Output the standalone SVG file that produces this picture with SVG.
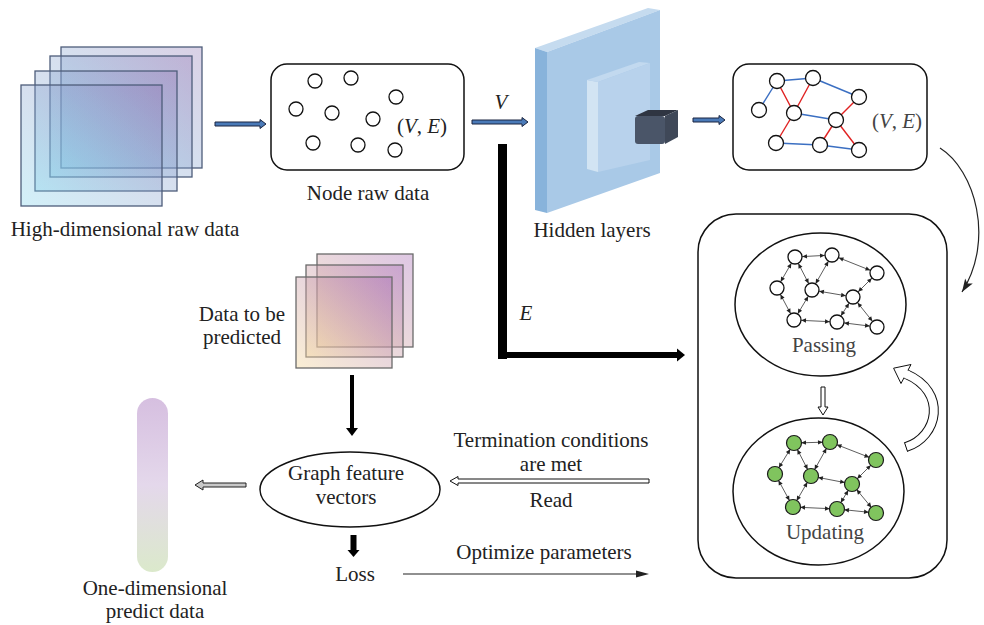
<svg xmlns="http://www.w3.org/2000/svg" width="984" height="625" viewBox="0 0 984 625" font-family="'Liberation Serif', 'DejaVu Serif', serif">
<style>
text{font-family:'Liberation Serif','DejaVu Serif',serif;font-size:21px;fill:#222;}
.g{fill:#444;}
.it{font-style:italic;}
.plane{stroke:#4e5d7a;stroke-width:1.3;fill:url(#gPlane);}
.dplane{stroke:#6a6a6a;stroke-width:1.3;fill:url(#gData);}
.box{fill:none;stroke:#111;stroke-width:1.5;}
.n{fill:#fff;stroke:#111;stroke-width:1.3;}
.ng{fill:#80c45e;stroke:#1a1a1a;stroke-width:1.2;}
.e{stroke:#333;stroke-width:0.8;marker-start:url(#ah);marker-end:url(#ah);}
.bl{stroke:#3b6fc2;stroke-width:1.4;}
.rd{stroke:#e02222;stroke-width:1.4;}
.barr{fill:#4a7ab8;stroke:#1a2540;stroke-width:1;}
.harr{fill:#fff;stroke:#111;stroke-width:1;}
</style>
<defs>
<linearGradient id="gPlane" x1="0" y1="1" x2="1" y2="0">
<stop offset="0" stop-color="#7fd4ec" stop-opacity="0.35"/>
<stop offset="1" stop-color="#8a6fb0" stop-opacity="0.32"/>
</linearGradient>
<linearGradient id="gData" x1="0" y1="1" x2="1" y2="0">
<stop offset="0" stop-color="#f6dca0" stop-opacity="0.45"/>
<stop offset="1" stop-color="#a060b0" stop-opacity="0.35"/>
</linearGradient>
<linearGradient id="gBar" x1="0" y1="0" x2="0" y2="1">
<stop offset="0" stop-color="#d6bfe0"/>
<stop offset="0.5" stop-color="#e4d8eb"/>
<stop offset="1" stop-color="#dbe9cb"/>
</linearGradient>
<marker id="ah" markerUnits="userSpaceOnUse" markerWidth="10" markerHeight="10" refX="0" refY="0" orient="auto-start-reverse" overflow="visible">
<path d="M-12,-2.2 L-7.3,0 L-12,2.2 Z" fill="#222"/>
</marker>
<marker id="ahc" markerUnits="userSpaceOnUse" markerWidth="16" markerHeight="16" refX="0" refY="0" orient="auto" overflow="visible">
<path d="M-13,-4.5 L0,0 L-13,4.5 L-10,0 Z" fill="#222"/>
</marker>
</defs>

<g id="high-dim">
<rect class="plane" x="61" y="47" width="141" height="121"/>
<rect class="plane" x="50" y="56" width="142" height="121"/>
<rect class="plane" x="35" y="71" width="142" height="120"/>
<rect class="plane" x="21" y="85" width="141" height="121"/>
<text x="125" y="236" text-anchor="middle">High-dimensional raw data</text>
</g>

<g id="node-raw">
<rect class="box" x="271" y="64" width="193" height="106" rx="16"/>
<circle class="n" cx="315" cy="81" r="7"/>
<circle class="n" cx="351" cy="78" r="7"/>
<circle class="n" cx="396" cy="97" r="7"/>
<circle class="n" cx="296" cy="109" r="7"/>
<circle class="n" cx="332" cy="113" r="7"/>
<circle class="n" cx="373" cy="119" r="7"/>
<circle class="n" cx="313" cy="143" r="7"/>
<circle class="n" cx="358" cy="145" r="7"/>
<circle class="n" cx="395" cy="150" r="7"/>
<text x="422" y="133" text-anchor="middle">(<tspan class="it">V</tspan>, <tspan class="it">E</tspan>)</text>
<text x="368" y="200" text-anchor="middle">Node raw data</text>
</g>

<g id="hidden-layers">
<polygon points="535,48 648,8 660,10 547,52" fill="#c5dbef"/>
<polygon points="535,48 547,52 547,213 535,210" fill="#88b3db"/>
<polygon points="547,52 660,10 660,173 547,213" fill="#a9c9e7"/>
<polygon points="587,80 598,82 598,172 587,169" fill="#d2e4f3"/>
<polygon points="587,80 639,62 650,63 598,82" fill="#c2d9ef"/>
<polygon points="598,82 650,63 650,160 598,172" fill="#b8d2ec"/>
<polygon points="635,116 648,110 678,110 665,116" fill="#2f3542"/>
<polygon points="665,116 678,110 678,137 665,144" fill="#3f4858"/>
<rect x="635" y="116" width="30" height="28" rx="3" fill="#4a5568"/>
<text x="592" y="237" text-anchor="middle">Hidden layers</text>
</g>

<g id="graph-ve">
<rect class="box" x="733" y="64" width="194" height="106" rx="16"/>
<line class="bl" x1="759" y1="110" x2="777" y2="81"/>
<line class="bl" x1="777" y1="81" x2="813" y2="78"/>
<line class="bl" x1="813" y1="78" x2="859" y2="97"/>
<line class="bl" x1="794" y1="113" x2="836" y2="120"/>
<line class="bl" x1="776" y1="143" x2="820" y2="145"/>
<line class="bl" x1="820" y1="145" x2="859" y2="150"/>
<line class="rd" x1="777" y1="81" x2="794" y2="113"/>
<line class="rd" x1="813" y1="78" x2="794" y2="113"/>
<line class="rd" x1="794" y1="113" x2="776" y2="143"/>
<line class="rd" x1="859" y1="97" x2="836" y2="120"/>
<line class="rd" x1="836" y1="120" x2="820" y2="145"/>
<line class="rd" x1="836" y1="120" x2="859" y2="150"/>
<circle class="n" cx="777" cy="81" r="7.5"/>
<circle class="n" cx="813" cy="78" r="7.5"/>
<circle class="n" cx="859" cy="97" r="7.5"/>
<circle class="n" cx="759" cy="110" r="7.5"/>
<circle class="n" cx="794" cy="113" r="7.5"/>
<circle class="n" cx="836" cy="120" r="7.5"/>
<circle class="n" cx="776" cy="143" r="7.5"/>
<circle class="n" cx="820" cy="145" r="7.5"/>
<circle class="n" cx="859" cy="150" r="7.5"/>
<text class="g" x="897" y="128" text-anchor="middle">(<tspan class="it">V</tspan>, <tspan class="it">E</tspan>)</text>
</g>

<g id="gnn-box">
<rect class="box" x="698" y="214" width="249" height="364" rx="38"/>
</g>

<g id="passing">
<ellipse class="box" cx="820.5" cy="304.5" rx="85.5" ry="71.5"/>
<line class="e" x1="795" y1="257" x2="832" y2="255"/>
<line class="e" x1="832" y1="255" x2="877" y2="273"/>
<line class="e" x1="795" y1="257" x2="777" y2="288"/>
<line class="e" x1="795" y1="257" x2="812" y2="290"/>
<line class="e" x1="832" y1="255" x2="812" y2="290"/>
<line class="e" x1="777" y1="288" x2="794" y2="320"/>
<line class="e" x1="812" y1="290" x2="794" y2="320"/>
<line class="e" x1="812" y1="290" x2="853" y2="297"/>
<line class="e" x1="877" y1="273" x2="853" y2="297"/>
<line class="e" x1="853" y1="297" x2="837" y2="322"/>
<line class="e" x1="853" y1="297" x2="877" y2="327"/>
<line class="e" x1="794" y1="320" x2="837" y2="322"/>
<line class="e" x1="837" y1="322" x2="877" y2="327"/>
<circle class="n" cx="795" cy="257" r="7"/>
<circle class="n" cx="832" cy="255" r="7"/>
<circle class="n" cx="877" cy="273" r="7"/>
<circle class="n" cx="777" cy="288" r="7"/>
<circle class="n" cx="812" cy="290" r="7"/>
<circle class="n" cx="853" cy="297" r="7"/>
<circle class="n" cx="794" cy="320" r="7"/>
<circle class="n" cx="837" cy="322" r="7"/>
<circle class="n" cx="877" cy="327" r="7"/>
<text class="g" x="824" y="352" text-anchor="middle">Passing</text>
</g>

<g id="updating">
<ellipse class="box" cx="818.5" cy="491.5" rx="85.5" ry="73.5"/>
<line class="e" x1="794" y1="443" x2="830" y2="442"/>
<line class="e" x1="830" y1="442" x2="876" y2="460"/>
<line class="e" x1="794" y1="443" x2="775" y2="474"/>
<line class="e" x1="794" y1="443" x2="811" y2="476"/>
<line class="e" x1="830" y1="442" x2="811" y2="476"/>
<line class="e" x1="775" y1="474" x2="793" y2="507"/>
<line class="e" x1="811" y1="476" x2="793" y2="507"/>
<line class="e" x1="811" y1="476" x2="852" y2="484"/>
<line class="e" x1="876" y1="460" x2="852" y2="484"/>
<line class="e" x1="852" y1="484" x2="837" y2="509"/>
<line class="e" x1="852" y1="484" x2="876" y2="513"/>
<line class="e" x1="793" y1="507" x2="837" y2="509"/>
<line class="e" x1="837" y1="509" x2="876" y2="513"/>
<circle class="ng" cx="794" cy="443" r="7.5"/>
<circle class="ng" cx="830" cy="442" r="7.5"/>
<circle class="ng" cx="876" cy="460" r="7.5"/>
<circle class="ng" cx="775" cy="474" r="7.5"/>
<circle class="ng" cx="811" cy="476" r="7.5"/>
<circle class="ng" cx="852" cy="484" r="7.5"/>
<circle class="ng" cx="793" cy="507" r="7.5"/>
<circle class="ng" cx="837" cy="509" r="7.5"/>
<circle class="ng" cx="876" cy="513" r="7.5"/>
<text class="g" x="825" y="539" text-anchor="middle">Updating</text>
</g>

<g id="data-predicted">
<rect class="dplane" x="317" y="254" width="96" height="93"/>
<rect class="dplane" x="306" y="265" width="97" height="92"/>
<rect class="dplane" x="296" y="277" width="96" height="91"/>
<text x="242" y="321" text-anchor="middle">Data to be</text>
<text x="242" y="344" text-anchor="middle">predicted</text>
</g>

<g id="graph-feature">
<ellipse class="box" cx="350" cy="489.5" rx="90" ry="37.5" stroke-width="1.3"/>
<text x="346" y="480" text-anchor="middle">Graph feature</text>
<text x="346" y="504" text-anchor="middle">vectors</text>
</g>

<g id="loss">
<text x="355" y="581" text-anchor="middle">Loss</text>
</g>

<g id="one-dim">
<rect x="137" y="398" width="31" height="174" rx="15.5" fill="url(#gBar)"/>
<text x="155" y="595" text-anchor="middle">One-dimensional</text>
<text x="155" y="618" text-anchor="middle">predict data</text>
</g>

<g id="connectors">
<path class="barr" d="M215,122 H260 V119.5 L266,124 L260,128.5 V126 H215 Z"/>
<path class="barr" d="M472,120 H522 V117.5 L528,122 L522,126.5 V124 H472 Z"/>
<text class="it" x="501" y="109" text-anchor="middle">V</text>
<path class="barr" d="M693,118 H719 V115.5 L725,120 L719,124.5 V122 H693 Z"/>
<rect x="498" y="144" width="9" height="215" fill="#000"/>
<rect x="498" y="352" width="180" height="6" fill="#000"/>
<polygon points="677,348.5 685,355 677,361.5" fill="#000"/>
<text class="it" x="526" y="320" text-anchor="middle">E</text>
<path d="M940,148 C975,170 995,240 962,292" fill="none" stroke="#222" stroke-width="1.2" marker-end="url(#ahc)"/>
<path class="harr" d="M821,387 V407 H818 L823,415 L828,407 H825 V387 Z"/>
<path d="M906,447 C938,437 948,392 906,374" fill="none" stroke="#111" stroke-width="10"/>
<path d="M906,447 C938,437 948,392 906,374" fill="none" stroke="#fff" stroke-width="8"/>
<polygon points="893.6,368.2 911.0,364.5 901.0,383.5" fill="#fff" stroke="#111" stroke-width="1"/>
<line x1="908.2" y1="375.1" x2="904.6" y2="373.4" stroke="#fff" stroke-width="8"/>
<line x1="907.6" y1="451.7" x2="904.4" y2="442.3" stroke="#111" stroke-width="1"/>
<rect x="350" y="375" width="4" height="54" fill="#000"/>
<polygon points="346,428 358,428 352,436" fill="#000"/>
<rect x="350.5" y="535" width="6" height="16" fill="#000"/>
<polygon points="347.5,550 359.5,550 353.5,557" fill="#000"/>
<path class="harr" d="M649,479 H458 V476.5 L450,481 L458,485.5 V483 H649 Z"/>
<text x="551" y="447" text-anchor="middle">Termination conditions</text>
<text x="551" y="471" text-anchor="middle">are met</text>
<text x="551" y="507" text-anchor="middle">Read</text>
<path d="M246,483 H203 V480 L195,485 L203,490 V487 H246 Z" fill="#c8c8c8" stroke="#222" stroke-width="1"/>
<line x1="403" y1="574" x2="638" y2="574" stroke="#222" stroke-width="1.2"/>
<polygon points="636,570.5 649,574 636,577.5" fill="#222"/>
<text x="544" y="559" text-anchor="middle">Optimize parameters</text>
</g>
</svg>
